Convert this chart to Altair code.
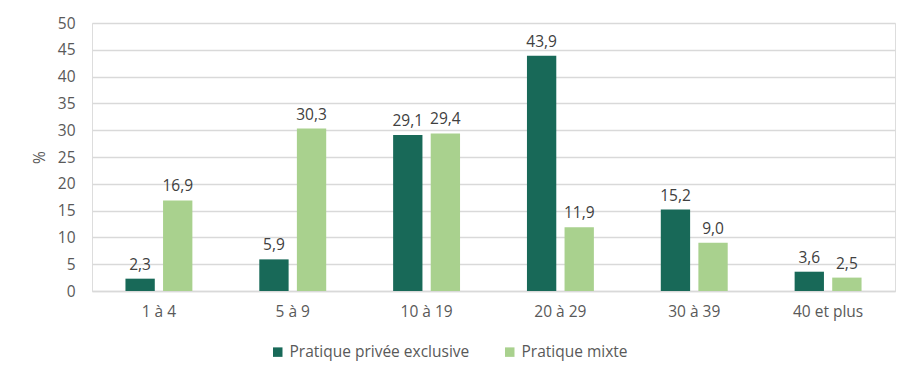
import altair as alt
import pandas as pd

categories = ["1 à 4", "5 à 9", "10 à 19", "20 à 29", "30 à 39", "40 et plus"]
series_names = ["Pratique privée exclusive", "Pratique mixte"]
exclusive = [2.3, 5.9, 29.1, 43.9, 15.2, 3.6]
mixte = [16.9, 30.3, 29.4, 11.9, 9.0, 2.5]
y_ticks = list(range(0, 55, 5))

rows = []
for cat, a, b in zip(categories, exclusive, mixte):
    rows.append({"cat": cat, "serie": series_names[0], "val": a})
    rows.append({"cat": cat, "serie": series_names[1], "val": b})
df = pd.DataFrame(rows)
df["label"] = df["val"].map(lambda v: f"{v:.1f}".replace(".", ","))

FONT = "Open Sans"
GRAY = "#595959"
FS = 15.5

x_enc = alt.X("cat:N", sort=categories, title=None,
              scale=alt.Scale(paddingInner=0.5, paddingOuter=0.25),
              axis=alt.Axis(labelAngle=0, ticks=False, domainColor="#d9d9d9",
                            domainWidth=1.3, labelPadding=13, labelFontSize=FS,
                            labelColor=GRAY, labelFont=FONT, grid=False))
xoff = alt.XOffset("serie:N", sort=series_names,
                   scale=alt.Scale(paddingInner=0.22, paddingOuter=0))
y_enc = alt.Y("val:Q", title="%",
              scale=alt.Scale(domain=[0, 50], nice=False),
              axis=alt.Axis(values=y_ticks, ticks=False, domain=False,
                            gridColor="#d9d9d9", gridWidth=1.3,
                            labelPadding=17, labelFontSize=FS, labelColor=GRAY,
                            labelFont=FONT, titleFont=FONT, titleFontSize=FS,
                            titleColor=GRAY, titleFontWeight="normal",
                            titlePadding=10))

color = alt.Color("serie:N", sort=series_names, title=None,
                  scale=alt.Scale(domain=series_names, range=["#186958", "#A9D18E"]),
                  legend=alt.Legend(orient="none", direction="horizontal",
                                    legendX=178, legendY=321,
                                    symbolType="square", symbolSize=90,
                                    symbolStrokeWidth=0, labelFontSize=FS,
                                    labelFont=FONT, labelColor=GRAY,
                                    columnPadding=32, labelOffset=4,
                                    labelLimit=400))

bars = alt.Chart(df).mark_bar().encode(x=x_enc, xOffset=xoff, y=y_enc, color=color)
text = alt.Chart(df).mark_text(baseline="bottom", dy=-6, fontSize=FS, font=FONT,
                               color="#404040").encode(
    x=x_enc, xOffset=xoff, y=y_enc, text="label:N")

chart = alt.layer(bars, text).properties(
    width=803, height=268,
    autosize=alt.AutoSizeParams(type="none"),
    padding={"left": 84, "top": 15, "right": 3, "bottom": 80},
).configure_view(stroke=None).configure(background="white")

chart.save("out.html", embed_options={"renderer": "svg", "actions": False})
